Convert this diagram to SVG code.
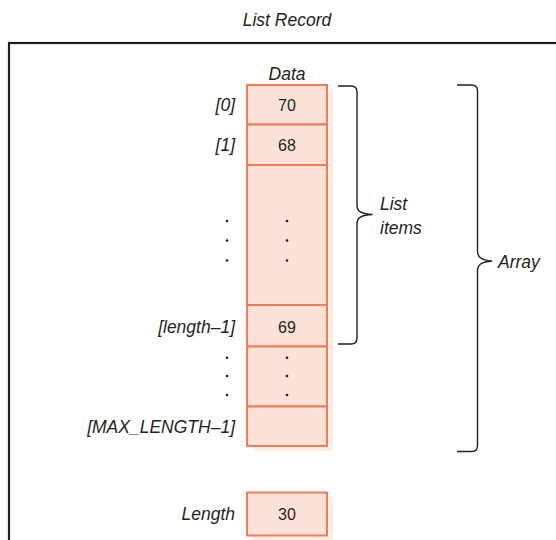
<svg xmlns="http://www.w3.org/2000/svg" width="556" height="540" viewBox="0 0 556 540">
<style>
.lbl{font-family:"Liberation Sans",Arial,sans-serif;font-style:italic;font-size:17.5px;fill:#231f20}
.num{font-family:"Liberation Sans",Arial,sans-serif;font-size:16px;fill:#231f20;text-anchor:middle}
.cell{fill:#fde2d8;stroke:#f27b58;stroke-width:2}
.shadow{fill:#fdeee8}
.brace{fill:none;stroke:#231f20;stroke-width:1.4}
.dot{fill:#231f20}
.r{text-anchor:end}
</style>
<rect width="556" height="540" fill="#ffffff"/>
<g id="record">
<text class="lbl" x="287" y="26" text-anchor="middle">List Record</text>
<rect x="9" y="43" width="620" height="620" fill="none" stroke="#231f20" stroke-width="2.2"/>
</g>
<g id="data">
<text class="lbl" x="287" y="80" text-anchor="middle">Data</text>
<rect class="shadow" x="253" y="90" width="80" height="361"/>
<g id="cell0"><rect class="cell" x="247" y="85" width="80" height="39.5"/><text class="num" x="287" y="111">70</text><text class="lbl r" x="235" y="111">[0]</text></g>
<g id="cell1"><rect class="cell" x="247" y="124.5" width="80" height="40.5"/><text class="num" x="287" y="151">68</text><text class="lbl r" x="235" y="151">[1]</text></g>
<g id="cellMid"><rect class="cell" x="247" y="165" width="80" height="140"/>
<circle class="dot" cx="287" cy="221" r="1.3"/><circle class="dot" cx="287" cy="240.5" r="1.3"/><circle class="dot" cx="287" cy="260.5" r="1.3"/>
<circle class="dot" cx="227" cy="221" r="1.3"/><circle class="dot" cx="227" cy="240.5" r="1.3"/><circle class="dot" cx="227" cy="260.5" r="1.3"/></g>
<g id="cellLast"><rect class="cell" x="247" y="305" width="80" height="41.5"/><text class="num" x="287" y="333">69</text><text class="lbl r" x="235" y="333">[length–1]</text></g>
<g id="cellRest"><rect class="cell" x="247" y="346.5" width="80" height="60"/>
<circle class="dot" cx="287" cy="357.7" r="1.3"/><circle class="dot" cx="287" cy="376" r="1.3"/><circle class="dot" cx="287" cy="395" r="1.3"/>
<circle class="dot" cx="227" cy="357.7" r="1.3"/><circle class="dot" cx="227" cy="376" r="1.3"/><circle class="dot" cx="227" cy="395" r="1.3"/></g>
<g id="cellMax"><rect class="cell" x="247" y="406.5" width="80" height="39.5"/><text class="lbl r" x="235" y="433">[MAX_LENGTH–1]</text></g>
</g>
<g id="length">
<rect class="shadow" x="253" y="497" width="80" height="43"/>
<rect class="cell" x="247" y="492.5" width="80" height="43"/>
<text class="num" x="287" y="520">30</text>
<text class="lbl r" x="235" y="520">Length</text>
</g>
<g id="connectors">
<path class="brace" d="M338,86 H351 Q357,86 357,92 V205 C357,212 362,214 372.5,214.5 C362,215 357,217 357,224 V338 Q357,344 351,344 H338"/>
<path class="brace" d="M457,85 H471.5 Q477.5,85 477.5,91 V251 C477.5,258 482,260 492,261 C482,262 477.5,264 477.5,271 V445.5 Q477.5,451.5 471.5,451.5 H457"/>
</g>
<g id="braceLabels">
<text class="lbl" x="380" y="210">List</text>
<text class="lbl" x="380" y="234">items</text>
<text class="lbl" x="498" y="268">Array</text>
</g>
</svg>
